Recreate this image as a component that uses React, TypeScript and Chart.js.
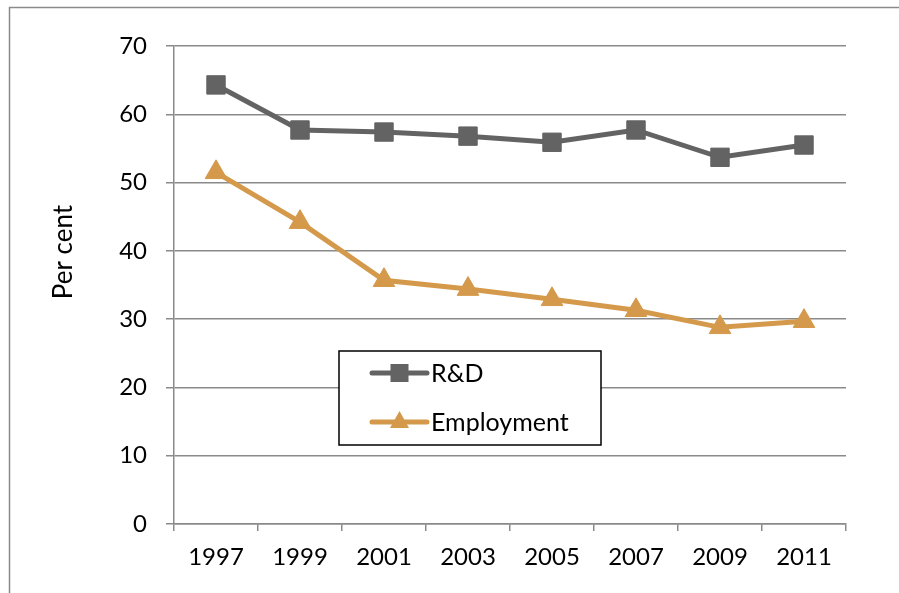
import React, { useEffect, useRef } from "react";
import { Chart, registerables } from "chart.js";

Chart.register(...registerables);

const years = ["1997", "1999", "2001", "2003", "2005", "2007", "2009", "2011"];
const rdShare = [64.3, 57.7, 57.4, 56.8, 55.9, 57.7, 53.7, 55.5];
const employmentShare = [51.5, 44.2, 35.7, 34.4, 32.9, 31.3, 28.8, 29.7];
const yTicks = [0, 10, 20, 30, 40, 50, 60, 70];

const FONT = "Lato, 'Open Sans', sans-serif";
const GREY = "#636363";
const ORANGE = "#D4994A";
const AXIS = "#8a8a8a";

// Outer frame, rotated axis title and the boxed legend inside the plot
const decorations = {
  id: "decorations",
  beforeDraw(chart: any) {
    const { ctx, width, height } = chart;
    ctx.save();
    ctx.strokeStyle = AXIS;
    ctx.lineWidth = 1.5;
    ctx.beginPath();
    ctx.moveTo(9.5, height);
    ctx.lineTo(9.5, 7.5);
    ctx.lineTo(width, 7.5);
    ctx.stroke();
    ctx.restore();
  },
  afterDraw(chart: any) {
    const { ctx, chartArea } = chart;
    ctx.save();
    // axis title
    ctx.translate(64, 252);
    ctx.rotate(-Math.PI / 2);
    ctx.font = `26px ${FONT}`;
    ctx.fillStyle = "#000";
    ctx.textAlign = "center";
    ctx.textBaseline = "middle";
    ctx.fillText("Per cent", 0, 0);
    ctx.restore();

    // legend
    const bx = chartArea.left + 165;
    const by = chartArea.top + 305;
    const bw = 262;
    const bh = 94;
    ctx.save();
    ctx.fillStyle = "#fff";
    ctx.fillRect(bx, by, bw, bh);
    ctx.strokeStyle = "#000";
    ctx.lineWidth = 1.5;
    ctx.strokeRect(bx, by, bw, bh);

    const items = chart.data.datasets.map((ds: any) => ({
      label: ds.label,
      color: ds.borderColor,
      style: ds.pointStyle,
    }));
    items.forEach((it: any, i: number) => {
      const cy = by + 22 + i * 49;
      const x0 = bx + 33;
      const x1 = bx + 88;
      ctx.strokeStyle = it.color;
      ctx.lineWidth = 5;
      ctx.lineCap = "round";
      ctx.beginPath();
      ctx.moveTo(x0, cy);
      ctx.lineTo(x1, cy);
      ctx.stroke();
      ctx.fillStyle = it.color;
      const mx = (x0 + x1) / 2;
      if (it.style === "rect") {
        ctx.fillRect(mx - 9, cy - 9, 18, 18);
      } else {
        ctx.beginPath();
        ctx.moveTo(mx, cy - 11);
        ctx.lineTo(mx + 9.5, cy + 6);
        ctx.lineTo(mx - 9.5, cy + 6);
        ctx.closePath();
        ctx.fill();
      }
      ctx.fillStyle = "#000";
      ctx.font = `25px ${FONT}`;
      ctx.textAlign = "left";
      ctx.textBaseline = "middle";
      ctx.fillText(it.label, x1 + 4, cy + 1);
    });
    ctx.restore();
  },
};

export default function App() {
  const canvasRef = useRef<HTMLCanvasElement | null>(null);

  useEffect(() => {
    document.body.style.margin = "0";
    const canvas = canvasRef.current;
    if (!canvas) return;
    const chart = new Chart(canvas, {
      type: "line",
      data: {
        labels: years,
        datasets: [
          {
            label: "R&D",
            data: rdShare,
            borderColor: GREY,
            backgroundColor: GREY,
            borderWidth: 5,
            pointStyle: "rect",
            pointRadius: 13,
            pointBorderWidth: 1,
            pointBackgroundColor: GREY,
            pointBorderColor: GREY,
            tension: 0,
            clip: false,
          },
          {
            label: "Employment",
            data: employmentShare,
            borderColor: ORANGE,
            backgroundColor: ORANGE,
            borderWidth: 5,
            pointStyle: "triangle",
            pointRadius: 12.5,
            pointBorderWidth: 1,
            pointBackgroundColor: ORANGE,
            pointBorderColor: ORANGE,
            tension: 0,
            clip: false,
          },
        ],
      },
      options: {
        responsive: false,
        animation: false,
        events: [],
        layout: {
          autoPadding: false,
          padding: { left: 0, top: 46, right: 53, bottom: 0 },
        },
        plugins: {
          legend: { display: false },
          tooltip: { enabled: false },
          title: { display: false },
        },
        scales: {
          x: {
            type: "category",
            offset: true,
            grid: {
              offset: true,
              drawOnChartArea: false,
              drawTicks: true,
              tickLength: 7,
              color: AXIS,
              lineWidth: 1.5,
            },
            border: { display: true, color: AXIS, width: 1.5 },
            ticks: {
              color: "#000",
              font: { family: FONT, size: 24 },
              padding: 12,
              maxRotation: 0,
              autoSkip: false,
            },
            afterFit(scale: any) {
              scale.height = 69;
            },
          },
          y: {
            min: 0,
            max: 70,
            afterBuildTicks(scale: any) {
              scale.ticks = yTicks.map((v) => ({ value: v }));
            },
            grid: {
              color: AXIS,
              lineWidth: 1.5,
              drawTicks: true,
              tickLength: 8,
            },
            border: { display: true, color: AXIS, width: 1.5 },
            ticks: {
              color: "#000",
              font: { family: FONT, size: 24 },
              padding: 19,
            },
            afterFit(scale: any) {
              scale.width = 174;
            },
          },
        },
      },
      plugins: [decorations],
    });
    return () => chart.destroy();
  }, []);

  return (
    <div style={{ width: 899, height: 593, background: "#fff" }}>
      <canvas ref={canvasRef} width={899} height={593} />
    </div>
  );
}
